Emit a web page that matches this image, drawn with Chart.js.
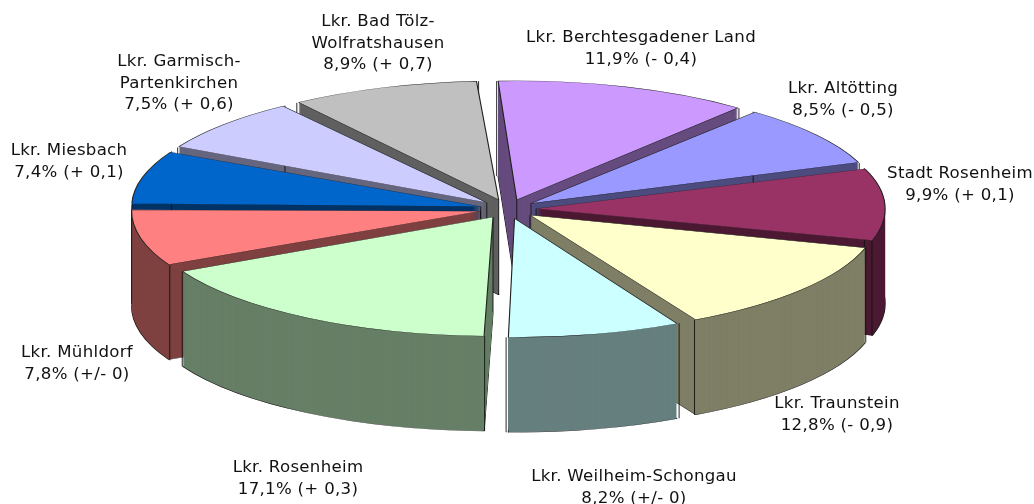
<!DOCTYPE html>
<html><head><meta charset="utf-8">
<style>html,body{margin:0;padding:0;background:#fff}canvas{display:block}</style>
<script src="https://cdn.jsdelivr.net/npm/chart.js@4"></script>
</head><body>
<canvas id="c" width="1034" height="504"></canvas>
<script>
const categories = [
  ["Lkr. Berchtesgadener Land"],
  ["Lkr. Altötting"],
  ["Stadt Rosenheim"],
  ["Lkr. Traunstein"],
  ["Lkr. Weilheim-Schongau"],
  ["Lkr. Rosenheim"],
  ["Lkr. Mühldorf"],
  ["Lkr. Miesbach"],
  ["Lkr. Garmisch-", "Partenkirchen"],
  ["Lkr. Bad Tölz-", "Wolfratshausen"]
];
const shares = [11.9, 8.5, 9.9, 12.8, 8.2, 17.1, 7.8, 7.4, 7.5, 8.9];
const changes = ["- 0,4", "- 0,5", "+ 0,1", "- 0,9", "+/- 0", "+ 0,3", "+/- 0", "+ 0,1", "+ 0,6", "+ 0,7"];
const colors = ["#CC99FF", "#9999FF", "#993366", "#FFFFCC", "#CCFFFF", "#CCFFCC", "#FF8080", "#0066CC", "#CCCCFF", "#C0C0C0"];
const labelAnchors = [[641,38],[843,89],[960,174],[837,404],[634,477],[298,468],[77,353],[69,151],[179,62],[378,22]];

const view = {cx:508, cy:209, rx:349, ry:119, depth:95};
const halve = h => {
  const n = parseInt(h.slice(1),16);
  return `rgb(${(n>>16&255)>>1},${(n>>8&255)>>1},${(n&255)>>1})`;
};
const pie3d = {
  id:'pie3d',
  beforeDatasetDraw(chart, args){
    const ctx = chart.ctx;
    const arcs = args.meta.data.map((a,i)=>({a,i})).sort((p,q)=>{
      const m = e => Math.sin((e.a.startAngle+e.a.endAngle)/2);
      return m(p)-m(q);
    });
    const R = arcs[0].a.outerRadius;
    const sx = view.rx/R, sy = view.ry/R;
    const paint = (a,d,fill,stroke,bw)=>{
      const savedOptions = a.options, savedRadius = a.outerRadius;
      const off = savedOptions.offset/4;
      const fix = 1-Math.sin(Math.min(Math.PI,a.circumference));
      a.options = Object.assign({},savedOptions,{backgroundColor:fill,borderColor:stroke,borderWidth:bw});
      a.outerRadius = R-off*fix;
      ctx.save();
      ctx.translate(view.cx, view.cy+d);
      ctx.scale(sx,sy);
      ctx.translate(-a.x,-a.y);
      a.draw(ctx);
      ctx.restore();
      a.options = savedOptions;
      a.outerRadius = savedRadius;
    };
    for(const {a,i} of arcs){
      const wall = halve(colors[i]);
      const mid = (a.startAngle+a.endAngle)/2;
      const off = a.options.offset/4;
      const bx = Math.cos(mid)*off*sx, by = Math.sin(mid)*off*sy;
      paint(a,view.depth,wall,'#1a1a1a',0.7);
      for(let d=view.depth-1;d>0;d--) paint(a,d,wall,wall,0);
      ctx.save();
      ctx.strokeStyle='#111';ctx.lineWidth=0.9;
      ctx.beginPath();
      for(const t of [a.startAngle,a.endAngle]){
        const x=view.cx+bx+Math.cos(t)*view.rx, y=view.cy+by+Math.sin(t)*view.ry;
        ctx.moveTo(x,y);ctx.lineTo(x,y+view.depth);
      }
      ctx.moveTo(view.cx+bx,view.cy+by);ctx.lineTo(view.cx+bx,view.cy+by+view.depth);
      ctx.stroke();
      ctx.restore();
      paint(a,0,colors[i],'#222',0.7);
    }
    return false;
  },
  afterDraw(chart){
    const ctx = chart.ctx;
    ctx.save();
    ctx.fillStyle='#111';
    ctx.font='16.6px "DejaVu Sans"';
    ctx.letterSpacing='0.3px';
    ctx.textAlign='center';ctx.textBaseline='middle';
    categories.forEach((lines,i)=>{
      const rows=[...lines, `${String(shares[i]).replace('.',',')}% (${changes[i]})`];
      const [x,y]=labelAnchors[i];
      rows.forEach((r,k)=>ctx.fillText(r,x,y+k*21.5));
    });
    ctx.restore();
  }
};
new Chart(document.getElementById('c'),{
  type:'pie',
  data:{labels:categories.map(l=>l.join(' ')),datasets:[{data:shares,backgroundColor:colors,offset:70,borderWidth:0}]},
  options:{responsive:false,animation:false,devicePixelRatio:1,rotation:-3.3,
    plugins:{legend:{display:false},tooltip:{enabled:false}}},
  plugins:[pie3d]
});
</script>
</body></html>
